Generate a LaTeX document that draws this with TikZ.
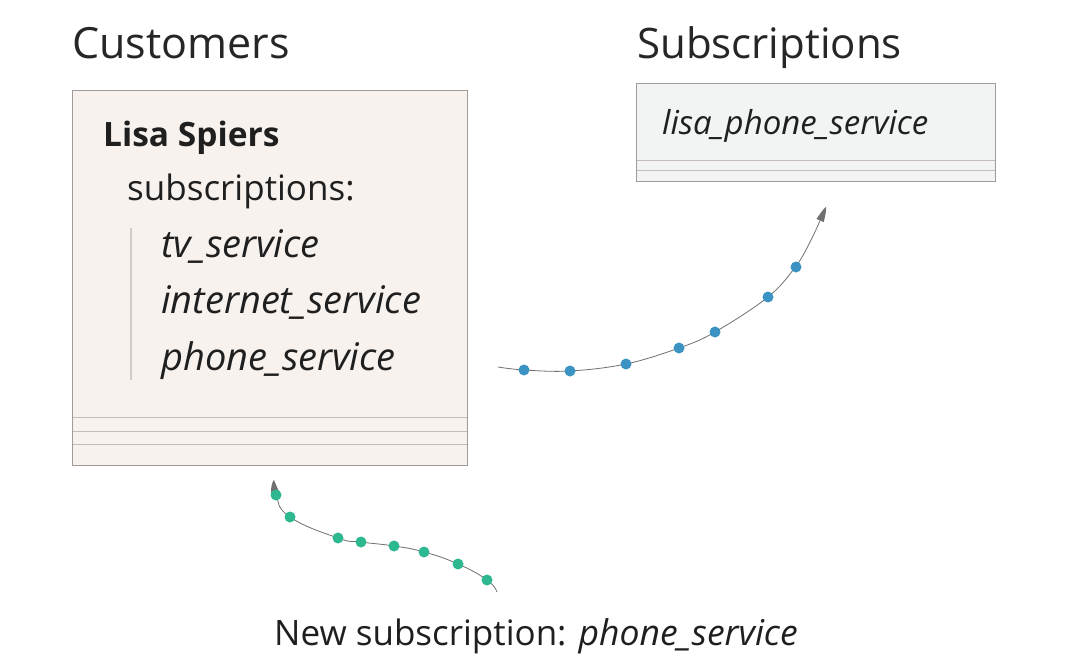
\documentclass[tikz,border=0pt]{standalone}
\usepackage{fontspec}
\setmainfont{Open Sans}
\usetikzlibrary{arrows.meta,bending}
\definecolor{custfill}{HTML}{F8F2EE}
\definecolor{subfill}{HTML}{F1F4F3}
\definecolor{boxline}{HTML}{A09A98}
\definecolor{sepline}{HTML}{C4BDB8}
\definecolor{bluedot}{HTML}{3A93C3}
\definecolor{greendot}{HTML}{2DB88F}
\definecolor{flowline}{HTML}{707070}
\tikzset{
  box/.style={draw=boxline, line width=0.9pt},
  sep/.style={draw=sepline, line width=0.9pt},
  title/.style={anchor=base west, inner sep=0pt, font=\fontsize{43}{48}\selectfont, text=black!85},
  txt/.style={anchor=base west, inner sep=0pt, font=\fontsize{35}{40}\selectfont, text=black!88},
  itxt/.style={txt, font=\fontsize{38}{42}\selectfont\itshape},
  flow/.style={draw=flowline, line width=0.8pt, -{Triangle[length=8pt,width=8pt,bend]}},
  bdot/.style={circle, fill=bluedot, inner sep=0pt, minimum size=11pt},
  gdot/.style={circle, fill=greendot, inner sep=0pt, minimum size=11pt}
}
\begin{document}
\begin{tikzpicture}[x=1pt,y=-1pt]
\useasboundingbox[fill=white] (0,0) rectangle (1082,672);
% titles
\node[title] (tcust) at (72,58) {Customers};
\node[title, font=\fontsize{42}{48}\selectfont] (tsub) at (637,58) {Subscriptions};
% customers box
\fill[custfill] (72,90) rectangle (467,465);
\draw[sep] (72,417) -- (467,417);
\draw[sep] (72,431) -- (467,431);
\draw[sep] (72,444) -- (467,444);
\draw[box] (72,90) rectangle (467,465);
\node[txt, font=\fontsize{33.5}{40}\selectfont\bfseries] (lisa) at (103,146) {Lisa Spiers};
\node[txt] (subs) at (127,200) {subscriptions:};
\draw[draw=black!20, line width=2pt] (131,228) -- (131,380);
\node[itxt] (tv) at (161,257) {tv\_service};
\node[itxt] (inet) at (161,313) {internet\_service};
\node[itxt] (phone) at (161,370) {phone\_service};
% subscriptions box
\fill[subfill] (636,83) rectangle (995,181);
\draw[sep] (636,160) -- (995,160);
\draw[sep] (636,170) -- (995,170);
\draw[box] (636,83) rectangle (995,181);
\node[itxt, font=\fontsize{33}{38}\selectfont\itshape] (lps) at (662,134) {lisa\_phone\_service};
% blue flow
\coordinate (b0) at (498,367);
\coordinate (b9) at (826,207);
\draw[flow] plot[smooth, tension=0.6] coordinates {(498,367) (524,370) (570,371) (626,364) (679,348) (715,332) (768,297) (796,266) (812,238) (826,207)};
\foreach \p [count=\i] in {(524,370),(570,371),(626,364),(679,348),(715,332),(768,297),(796,267)}
  \node[bdot] (bd\i) at \p {};
% green flow
\coordinate (g0) at (497,592);
\coordinate (g9) at (274,480);
\draw[flow] plot[smooth, tension=0.8] coordinates {(497,592) (487,580) (458,564) (424,552) (394,546) (361,542) (338,538) (290,517) (276,495) (274,480)};
\foreach \p [count=\i] in {(487,580),(458,564),(424,552),(394,546),(361,542),(338,538),(290,517),(276,495)}
  \node[gdot] (gd\i) at \p {};
% bottom label
\node[txt] (newsub) at (274,645) {New subscription: {\fontsize{35.5}{40}\selectfont\itshape phone\_service}};
\end{tikzpicture}
\end{document}
